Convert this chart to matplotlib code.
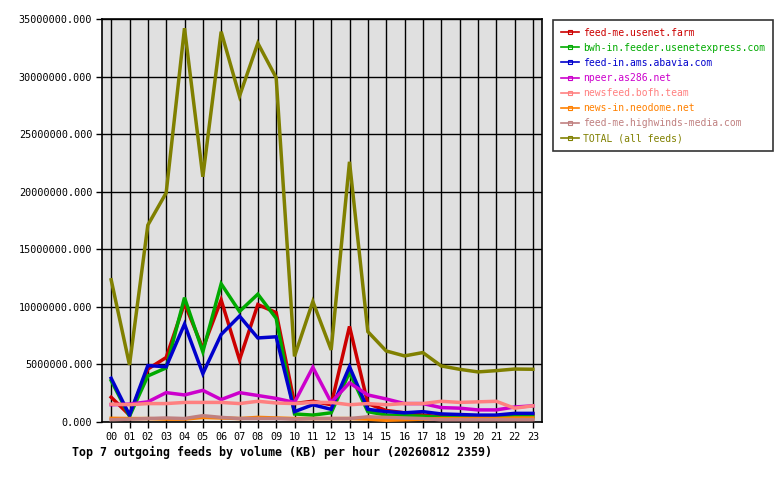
import numpy as np
import matplotlib
matplotlib.use("Agg")
import matplotlib.pyplot as plt
from matplotlib.lines import Line2D
from matplotlib.ticker import FuncFormatter, MultipleLocator

hours = ["%02d" % h for h in range(24)]

feed_names = [
    "feed-me.usenet.farm",
    "bwh-in.feeder.usenetexpress.com",
    "feed-in.ams.abavia.com",
    "npeer.as286.net",
    "newsfeed.bofh.team",
    "news-in.neodome.net",
    "feed-me.highwinds-media.com",
    "TOTAL (all feeds)",
]
feed_colors = ["#cc0000", "#00aa00", "#0000cc", "#cc00cc",
               "#ff8080", "#ff8000", "#c08080", "#808000"]

# KB per hour
usenet_farm = [2.15e6, 0.6e6, 4.6e6, 5.6e6, 10.3e6, 6.4e6, 10.6e6, 5.4e6, 10.2e6, 9.5e6, 1.6e6, 1.8e6,
               1.5e6, 8.3e6, 1.6e6, 1.0e6, 0.8e6, 0.6e6, 0.45e6, 0.45e6, 0.45e6, 0.45e6, 0.7e6, 0.7e6]
usenetexpress = [3.6e6, 0.5e6, 4.0e6, 4.7e6, 10.8e6, 6.1e6, 12.0e6, 9.6e6, 11.1e6, 9.0e6, 0.7e6, 0.6e6,
                 0.8e6, 4.3e6, 0.9e6, 0.6e6, 0.55e6, 0.5e6, 0.4e6, 0.4e6, 0.4e6, 0.4e6, 0.5e6, 0.45e6]
abavia = [3.8e6, 0.6e6, 4.9e6, 4.8e6, 8.5e6, 4.2e6, 7.6e6, 9.2e6, 7.3e6, 7.4e6, 0.9e6, 1.5e6,
          1.1e6, 4.8e6, 1.1e6, 0.9e6, 0.8e6, 0.9e6, 0.7e6, 0.65e6, 0.6e6, 0.6e6, 0.75e6, 0.75e6]
as286 = [1.5e6, 1.55e6, 1.75e6, 2.55e6, 2.35e6, 2.75e6, 1.95e6, 2.55e6, 2.3e6, 2.05e6, 1.7e6, 4.75e6,
         1.7e6, 3.4e6, 2.35e6, 2.0e6, 1.6e6, 1.6e6, 1.25e6, 1.2e6, 1.05e6, 1.05e6, 1.3e6, 1.4e6]
bofh = [1.55e6, 1.5e6, 1.6e6, 1.6e6, 1.7e6, 1.7e6, 1.7e6, 1.6e6, 1.8e6, 1.65e6, 1.6e6, 1.7e6,
        1.7e6, 1.5e6, 1.6e6, 1.5e6, 1.6e6, 1.6e6, 1.8e6, 1.7e6, 1.75e6, 1.8e6, 1.2e6, 1.4e6]
neodome = [0.32e6, 0.3e6, 0.3e6, 0.25e6, 0.25e6, 0.4e6, 0.35e6, 0.3e6, 0.4e6, 0.35e6, 0.3e6, 0.3e6,
           0.3e6, 0.3e6, 0.25e6, 0.15e6, 0.2e6, 0.25e6, 0.3e6, 0.3e6, 0.3e6, 0.3e6, 0.35e6, 0.35e6]
highwinds = [0.2e6, 0.25e6, 0.3e6, 0.35e6, 0.3e6, 0.55e6, 0.4e6, 0.3e6, 0.3e6, 0.3e6, 0.25e6, 0.3e6,
             0.3e6, 0.3e6, 0.45e6, 0.4e6, 0.35e6, 0.3e6, 0.2e6, 0.2e6, 0.2e6, 0.2e6, 0.2e6, 0.2e6]
total = [12.35e6, 4.96e6, 17.1e6, 19.9e6, 34.2e6, 21.3e6, 33.9e6, 28.3e6, 32.9e6, 29.9e6, 5.7e6, 10.46e6,
         6.26e6, 22.6e6, 7.85e6, 6.17e6, 5.74e6, 6.03e6, 4.87e6, 4.58e6, 4.35e6, 4.46e6, 4.6e6, 4.58e6]

series = [usenet_farm, usenetexpress, abavia, as286, bofh, neodome, highwinds, total]

plt.rcParams["font.family"] = "DejaVu Sans Mono"

fig = plt.figure(figsize=(7.8, 4.8), dpi=100)
ax = fig.add_axes([102 / 780, 1 - 422 / 480, 440 / 780, 403 / 480])
ax.set_facecolor("#e0e0e0")

x = np.arange(len(hours))
for vals, color in zip(series, feed_colors):
    ax.plot(x, vals, color=color, lw=2.5, solid_joinstyle="miter", zorder=3)

ax.set_xlim(-0.5, 23.5)
ax.set_ylim(0, 35e6)
ax.set_xticks(x)
ax.set_xticklabels(hours)
ax.yaxis.set_major_locator(MultipleLocator(5e6))
ax.yaxis.set_major_formatter(FuncFormatter(lambda v, p: "%d.000" % v))
ax.grid(True, color="black", lw=1.0, zorder=1)
ax.set_axisbelow(True)
ax.tick_params(axis="both", length=4, width=1, color="black", labelsize=7.3, pad=3)
for s in ax.spines.values():
    s.set_linewidth(1.2)

fig.text(72 / 780, 1 - 452 / 480, "Top 7 outgoing feeds by volume (KB) per hour (20260812 2359)",
         fontsize=8.4, fontweight="bold", va="center", ha="left")

handles = [Line2D([0], [0], color=c, lw=1.2, marker="s", markersize=2.5,
                  markerfacecolor="none", markeredgewidth=0.8) for c in feed_colors]
leg = fig.legend(handles, feed_names, loc="upper left",
                 bbox_to_anchor=(553 / 780, 1 - 20 / 480), borderaxespad=0,
                 fontsize=7.0, frameon=True, fancybox=False, edgecolor="black",
                 handlelength=1.9, handletextpad=0.4, labelspacing=0.52,
                 borderpad=0.8)
leg.get_frame().set_linewidth(1.2)
for t, c in zip(leg.get_texts(), feed_colors):
    t.set_color(c)

fig.savefig("out.png", dpi=100)
